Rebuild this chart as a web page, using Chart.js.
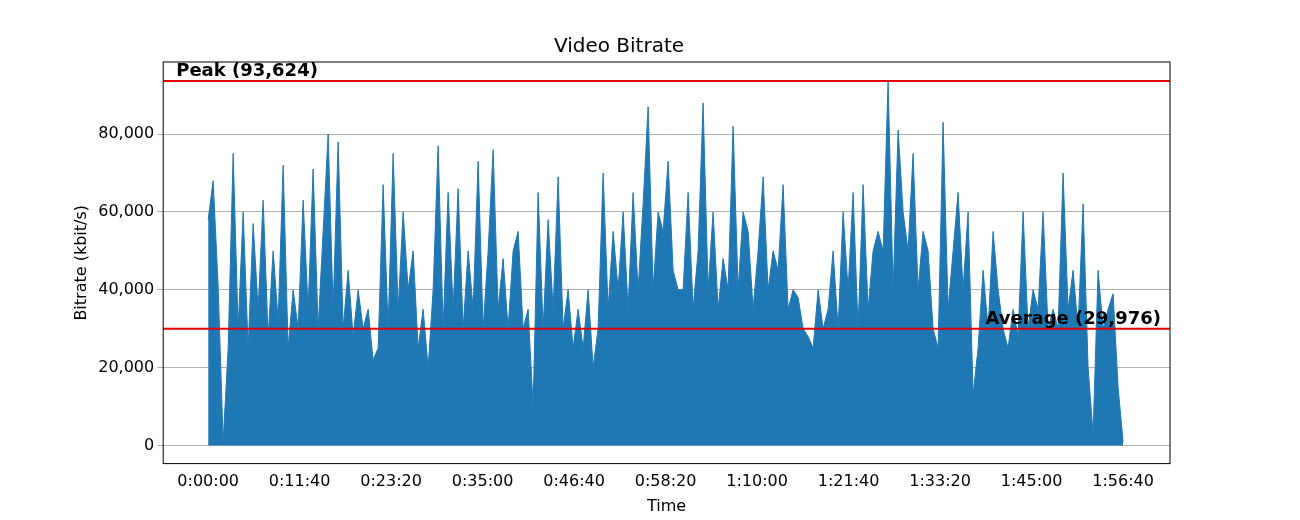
<!DOCTYPE html>
<html>
<head>
<meta charset="utf-8">
<script src="https://cdn.jsdelivr.net/npm/chart.js@4"></script>
<style>
  body { margin: 0; background: #fff; }
  #wrap { width: 1300px; height: 520px; }
</style>
</head>
<body>
<div id="wrap"><canvas id="chart"></canvas></div>
<script>
/* Bitrate samples in kbit/s / 1000, spread evenly over 0..7000 s */
var bitrateK = [
  58, 68, 41, 1, 25,
  75, 30, 60, 25, 57, 35, 63, 28, 50, 32,
  72, 25, 40, 30, 63, 35, 71, 30, 55, 80,
  35, 78, 30, 45, 28, 40, 30, 35, 22, 25,
  67, 30, 75, 35, 60, 40, 50, 25, 35, 20,
  40, 77, 30, 65, 35, 66, 30, 50, 35, 73,
  30, 50, 76, 35, 48, 30, 50, 55, 30, 35,
  10, 65, 30, 58, 35, 69, 30, 40, 25, 35,
  25, 40, 20, 30, 70, 35, 55, 40, 60, 35,
  65, 40, 62, 87, 40, 60, 55, 73, 45, 40,
  40, 65, 35, 50, 88, 40, 60, 35, 48, 40,
  82, 40, 60, 55, 35, 50, 69, 40, 50, 45,
  67, 35, 40, 38, 30, 28, 25, 40, 30, 35,
  50, 30, 60, 40, 65, 30, 67, 35, 50, 55,
  50, 93.624, 40, 81, 60, 50, 75, 40, 55, 50,
  30, 25, 83, 35, 50, 65, 40, 60, 13, 25,
  45, 30, 55, 40, 30, 25, 35, 28, 60, 30,
  40, 35, 60, 30, 35, 30, 70, 35, 45, 30,
  62, 20, 3, 45, 30, 35, 39, 15, 1
];
var durationSec = 7000;
var peak = 93624;
var average = 29976;
var xTicks = [0, 700, 1400, 2100, 2800, 3500, 4200, 4900, 5600, 6300, 7000];

function fmtTime(s) {
  var h = Math.floor(s / 3600), m = Math.floor(s % 3600 / 60), sec = Math.round(s % 60);
  return h + ':' + String(m).padStart(2, '0') + ':' + String(sec).padStart(2, '0');
}

var step = durationSec / (bitrateK.length - 1);
var points = bitrateK.map(function (v, i) { return {x: i * step, y: v * 1000}; });

/* red reference lines with bold labels */
var refLines = {
  id: 'refLines',
  afterDatasetsDraw: function (chart) {
    var c = chart.ctx, a = chart.chartArea, y = chart.scales.y;
    c.save();
    c.strokeStyle = '#e00000';
    c.lineWidth = 2;
    c.font = 'bold 18px "DejaVu Sans"';
    c.fillStyle = '#000';
    c.textBaseline = 'bottom';
    [[peak, 'Peak (93,624)', 'left'], [average, 'Average (29,976)', 'right']].forEach(function (r) {
      var py = y.getPixelForValue(r[0]);
      c.beginPath(); c.moveTo(a.left, py); c.lineTo(a.right, py); c.stroke();
      c.textAlign = r[2];
      c.fillText(r[1], r[2] === 'left' ? a.left + 13 : a.right - 9, py - 1);
    });
    c.strokeStyle = '#000'; c.lineWidth = 1;
    c.strokeRect(a.left, a.top, a.right - a.left, a.bottom - a.top);
    c.restore();
  }
};

Chart.defaults.font.family = '"DejaVu Sans"';
Chart.defaults.color = '#000';

new Chart(document.getElementById('chart'), {
  type: 'line',
  data: {
    datasets: [{
      data: points,
      borderColor: '#1f77b4',
      backgroundColor: '#1f77b4',
      borderWidth: 1,
      fill: 'origin',
      pointRadius: 0,
      tension: 0
    }]
  },
  options: {
    responsive: true,
    maintainAspectRatio: false,
    animation: false,
    layout: {padding: {left: 68, right: 130, top: 10, bottom: 0}},
    plugins: {
      legend: {display: false},
      tooltip: {enabled: false},
      title: {display: true, text: 'Video Bitrate', font: {size: 20, weight: 'normal'}, padding: {top: 25, bottom: 3}}
    },
    scales: {
      x: {
        type: 'linear', min: -344, max: 7359,
        afterBuildTicks: function (s) { s.ticks = xTicks.map(function (v) { return {value: v}; }); },
        ticks: {callback: function (v) { return fmtTime(v); }, font: {size: 16}, maxRotation: 0, autoSkip: false},
        grid: {display: false, drawTicks: true, tickLength: 6},
        border: {display: false},
        title: {display: true, text: 'Time', font: {size: 16}, padding: {top: 2}}
      },
      y: {
        min: -4630, max: 98500,
        afterBuildTicks: function (s) { s.ticks = [0, 20000, 40000, 60000, 80000].map(function (v) { return {value: v}; }); },
        ticks: {callback: function (v) { return v.toLocaleString('en-US'); }, font: {size: 16}},
        grid: {color: '#b0b0b0', tickLength: 6},
        border: {display: false},
        title: {display: true, text: 'Bitrate (kbit/s)', font: {size: 16}}
      }
    }
  },
  plugins: [refLines]
});
</script>
</body>
</html>
